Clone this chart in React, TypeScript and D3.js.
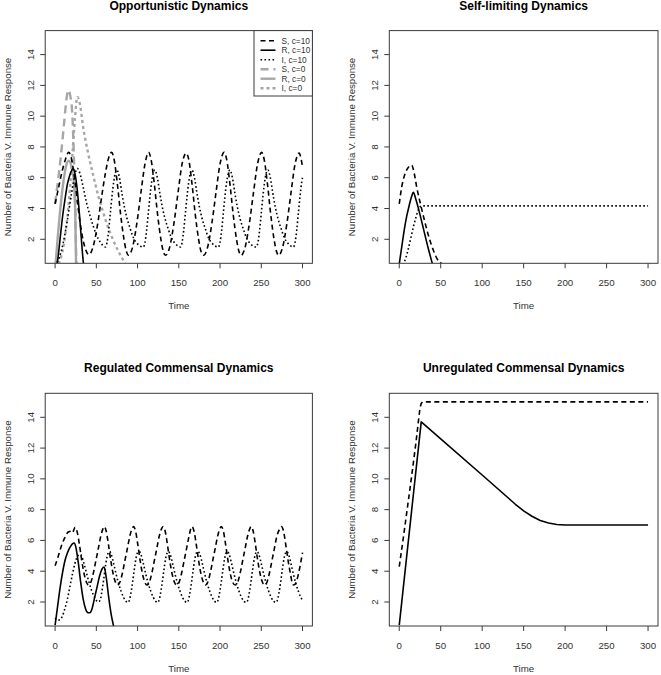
import React from 'react';
import * as d3 from 'd3';

type Pt = [number, number];

const timeTicks = [0, 50, 100, 150, 200, 250, 300];
const valueTicks = [2, 4, 6, 8, 10, 12, 14];
const xLabel = 'Time';
const yLabel = 'Number of Bacteria V. Immune Response';
const titles = [
  'Opportunistic Dynamics',
  'Self-limiting Dynamics',
  'Regulated Commensal Dynamics',
  'Unregulated Commensal Dynamics',
];
const legendLabels = ['S, c=10', 'R, c=10', 'I, c=10', 'S, c=0', 'R, c=0', 'I, c=0'];

// ---- Opportunistic ----
const oppS10: Pt[] = [
  [0, 4.3], [4, 5.3], [8, 6.3], [12, 7.1], [16.5, 7.65], [20, 7.2], [24, 5.8], [28, 4.0], [32, 2.5], [36, 1.5], [41, 1.0],
  [46, 1.5], [51, 2.8], [56, 4.6], [61, 6.3], [65, 7.3], [68.5, 7.65], [71.5, 7.2], [75.5, 5.6], [79.5, 3.6], [83.5, 2.0], [86.5, 1.2], [89, 0.96],
  [94, 1.5], [99, 3.0], [104, 5.0], [109, 6.9], [113.3, 7.65], [116.3, 7.2], [120.3, 5.6], [124.3, 3.6], [128.3, 2.0], [131.3, 1.2], [134, 0.96],
  [139, 1.5], [144, 3.0], [149, 5.0], [154, 6.9], [159, 7.6], [162, 7.2], [166, 5.6], [170, 3.6], [174, 2.0], [177, 1.2], [180, 0.96],
  [185, 1.5], [190, 3.0], [195, 5.0], [200, 6.9], [205, 7.65], [208, 7.2], [212, 5.6], [216, 3.6], [220, 2.0], [223, 1.2], [225.5, 0.96],
  [230.5, 1.5], [235.5, 3.0], [240.5, 5.0], [245.5, 6.9], [250.5, 7.65], [253.5, 7.2], [257.5, 5.6], [261.5, 3.6], [265.5, 2.0], [268.5, 1.2], [271, 0.96],
  [276, 1.5], [281, 3.0], [286, 5.0], [291, 6.9], [296, 7.6], [298, 7.3], [300, 6.7],
];
const oppR10: Pt[] = [
  [0, 0.0], [3, 0.6], [6, 2.0], [9, 3.45], [12, 4.6], [15, 5.6], [18, 6.2], [22, 6.6], [25, 6.0], [28, 4.6], [31, 2.6], [34.5, 0.4], [36, 0],
];
const oppI10: Pt[] = [
  [0, 0.3], [5, 0.8], [10, 1.8], [15, 3.3], [20, 5.0], [24, 6.2], [27, 6.6], [30, 6.3], [34, 5.4], [38, 4.4], [42, 3.6], [46, 2.9], [50, 2.3], [55, 1.8], [61, 1.5],
  [63, 1.8], [65, 2.6], [67, 3.7], [69, 4.8], [71, 5.7], [73, 6.3], [75, 6.5], [78, 6.0], [81, 5.0], [84, 4.1], [87, 3.4], [91, 2.7], [95, 2.1], [100, 1.7], [107, 1.5],
  [109, 1.8], [111, 2.6], [113, 3.7], [115, 4.8], [117, 5.7], [119, 6.3], [121, 6.5], [124, 6.0], [127, 5.0], [130, 4.1], [133, 3.4], [137, 2.7], [141, 2.1], [146, 1.7], [152, 1.5],
  [154, 1.8], [156, 2.6], [158, 3.7], [160, 4.8], [162, 5.7], [164, 6.3], [166, 6.5], [169, 6.0], [172, 5.0], [175, 4.1], [178, 3.4], [182, 2.7], [186, 2.1], [191, 1.7], [198, 1.5],
  [200, 1.8], [202, 2.6], [204, 3.7], [206, 4.8], [208, 5.7], [210, 6.3], [212, 6.5], [215, 6.0], [218, 5.0], [221, 4.1], [224, 3.4], [228, 2.7], [232, 2.1], [237, 1.7], [244, 1.5],
  [246, 1.8], [248, 2.6], [250, 3.7], [252, 4.8], [254, 5.7], [256, 6.3], [258, 6.5], [261, 6.0], [264, 5.0], [267, 4.1], [270, 3.4], [274, 2.7], [278, 2.1], [283, 1.7], [289, 1.5],
  [291, 1.8], [293, 2.6], [295, 3.7], [297, 4.8], [299, 5.7], [300, 6.0],
];
const oppS0: Pt[] = [
  [0, 4.3], [3, 5.6], [7, 7.4], [11, 9.6], [14, 11.2], [16, 11.7], [18.5, 11.3], [21, 10.0], [23, 7.0], [24.5, 4.0], [26, 0.3], [27, 0],
];
const oppR0: Pt[] = [
  [0, 0.0], [3, 2.0], [6, 3.8], [9, 5.3], [12, 6.4], [14, 6.9], [16.5, 7.1], [20, 6.7], [23, 5.6], [24.5, 3.5], [25.5, 0.3], [26, 0],
];
const oppI0: Pt[] = [
  [0, 0.1], [5, 0.5], [10, 1.5], [14, 3.0], [18, 5.3], [21, 7.5], [24, 9.8], [27, 11.25], [30, 10.8], [34, 9.3], [40, 7.6], [46, 6.2], [52, 4.9],
  [58, 3.8], [64, 2.8], [70, 2.0], [76, 1.3], [82, 0.7], [86, 0.3], [88, 0.1],
];

// ---- Self-limiting ----
const selfS: Pt[] = [
  [0, 4.3], [3, 5.4], [6, 6.1], [10, 6.6], [15, 6.82], [18, 6.3], [21, 5.4], [26, 4.2], [31, 3.1], [36, 2.1], [41, 1.3], [46, 0.7], [51, 0.4], [53, 0.2],
];
const selfR: Pt[] = [
  [0, 0.4], [3, 1.5], [6, 2.6], [9, 3.5], [12, 4.2], [15, 4.8], [17, 5.05], [20, 4.6], [25, 3.6], [30, 2.5], [35, 1.4], [40, 0.4], [41, 0.2],
];
const selfI: Pt[] = [
  [3, 0.1], [5, 0.4], [8, 0.8], [11, 1.4], [14, 2.1], [17, 2.8], [20, 3.4], [23, 3.9], [26, 4.15], [28, 4.17], [300, 4.17],
];

// ---- Regulated commensal ----
const regS: Pt[] = [
  [0, 4.35], [4, 5.0], [8, 5.7], [12, 6.2], [16, 6.55], [19, 6.6], [21, 6.5], [24.3, 6.85], [26.8, 6.55], [29.3, 5.8], [32.3, 4.7], [35.3, 3.8], [38.3, 3.25], [40.5, 3.1],
  [43.5, 3.3], [46.5, 3.9], [49.5, 4.7], [52.5, 5.5], [55.5, 6.3], [58, 6.75], [59.5, 6.9], [62, 6.6], [64.5, 5.8], [67.5, 4.7], [70.5, 3.8], [73.5, 3.25], [75.7, 3.1],
  [78.7, 3.3], [81.7, 3.9], [84.7, 4.7], [87.7, 5.5], [90.7, 6.3], [93.2, 6.75], [95.1, 6.9], [97.6, 6.6], [100.1, 5.8], [103.1, 4.7], [106.1, 3.8], [109.1, 3.25], [111.4, 3.1],
  [114.4, 3.3], [117.4, 3.9], [120.4, 4.7], [123.4, 5.5], [126.4, 6.3], [129, 6.75], [131, 6.9], [133.5, 6.6], [136, 5.8], [139, 4.7], [142, 3.8], [145, 3.25], [147.5, 3.1],
  [150.5, 3.3], [153.5, 3.9], [156.5, 4.7], [159.5, 5.5], [162.5, 6.3], [164.5, 6.75], [166, 6.9], [168.5, 6.6], [171, 5.8], [174, 4.7], [177, 3.8], [180, 3.25], [182.2, 3.1],
  [185.2, 3.3], [188.2, 3.9], [191.2, 4.7], [194.2, 5.5], [197.2, 6.3], [199.7, 6.75], [201.6, 6.9], [204.1, 6.6], [206.6, 5.8], [209.6, 4.7], [212.6, 3.8], [215.6, 3.25], [218.5, 3.1],
  [221.5, 3.3], [224.5, 3.9], [227.5, 4.7], [230.5, 5.5], [233.5, 6.3], [236, 6.75], [237.7, 6.9], [240.2, 6.6], [242.7, 5.8], [245.7, 4.7], [248.7, 3.8], [251.7, 3.25], [254, 3.1],
  [257, 3.3], [260, 3.9], [263, 4.7], [266, 5.5], [269, 6.3], [272.5, 6.75], [274.5, 6.9], [277, 6.6], [279.5, 5.8], [282.5, 4.7], [285.5, 3.8], [287.5, 3.25], [289.4, 3.1],
  [292.4, 3.3], [295.4, 3.9], [298, 4.6], [300, 5.2],
];
const regR: Pt[] = [
  [0, 0.5], [3, 1.7], [6, 2.9], [9, 3.9], [12, 4.7], [15, 5.2], [18, 5.55], [21, 5.78], [23, 5.83], [25, 5.6], [28, 4.6], [31, 3.3], [34, 2.2], [37, 1.55],
  [40, 1.3], [42, 1.3], [45, 1.6], [48, 2.3], [51, 3.0], [54, 3.7], [57, 4.15], [59.5, 4.27], [62, 3.6], [65, 2.3], [68, 1.2], [71, 0.4], [72, 0.1],
];
const regI: Pt[] = [
  [0, 0.95], [3, 0.82], [6, 0.85], [9, 1.1], [12, 1.6], [15, 2.2], [18, 3.0], [21, 3.8], [24, 4.5], [27, 4.95], [30, 5.1], [32, 5.0], [35, 4.5], [38, 3.9],
  [41, 3.3], [44, 2.8], [47, 2.4], [50, 2.1], [52.5, 2.0],
  [54.5, 2.1], [56.5, 2.6], [58.5, 3.3], [60.5, 4.1], [62.5, 4.8], [64.5, 5.2], [66, 5.28], [68, 5.1], [71, 4.5], [74, 3.8], [77, 3.2], [80, 2.7], [83, 2.3], [86, 2.05], [88, 1.97],
  [90, 2.1], [92, 2.6], [94, 3.3], [96, 4.1], [98, 4.8], [100, 5.2], [102, 5.28], [104, 5.1], [107, 4.5], [110, 3.8], [113, 3.2], [116, 2.7], [119, 2.3], [122, 2.05], [124, 1.97],
  [126, 2.1], [128, 2.6], [130, 3.3], [132, 4.1], [134, 4.8], [136, 5.2], [137.5, 5.28], [139.5, 5.1], [142.5, 4.5], [145.5, 3.8], [148.5, 3.2], [151.5, 2.7], [154.5, 2.3], [157.5, 2.05], [159.5, 1.97],
  [161.5, 2.1], [163.5, 2.6], [165.5, 3.3], [167.5, 4.1], [169.5, 4.8], [171.5, 5.2], [173.5, 5.28], [175.5, 5.1], [178.5, 4.5], [181.5, 3.8], [184.5, 3.2], [187.5, 2.7], [190.5, 2.3], [193.5, 2.05], [195.5, 1.97],
  [197.5, 2.1], [199.5, 2.6], [201.5, 3.3], [203.5, 4.1], [205.5, 4.8], [207.5, 5.2], [209, 5.28], [211, 5.1], [214, 4.5], [217, 3.8], [220, 3.2], [223, 2.7], [226, 2.3], [229, 2.05], [231.5, 1.97],
  [233.5, 2.1], [235.5, 2.6], [237.5, 3.3], [239.5, 4.1], [241.5, 4.8], [243.5, 5.2], [245, 5.28], [247, 5.1], [250, 4.5], [253, 3.8], [256, 3.2], [259, 2.7], [262, 2.3], [265, 2.05], [267.5, 1.97],
  [269.5, 2.1], [271.5, 2.6], [273.5, 3.3], [275.5, 4.1], [277.5, 4.8], [279.5, 5.2], [281, 5.28], [283, 5.1], [286, 4.5], [289, 3.8], [292, 3.2], [295, 2.7], [298, 2.3], [300, 2.1],
];

// ---- Unregulated commensal ----
const unregS: Pt[] = [
  [0, 4.3], [5, 6.2], [10, 8.2], [15, 10.2], [20, 12.3], [23, 13.7], [25, 14.6], [26.5, 14.9], [28, 15.0], [300, 15.0],
];
const unregR: Pt[] = [
  [0, 0.5], [26.5, 13.7], [50, 12.6], [100, 10.25], [140, 8.35], [150, 7.92], [160, 7.57], [170, 7.3], [180, 7.13], [190, 7.04], [200, 7.0], [210, 7.0], [300, 7.0],
];

const FONT = '"Liberation Sans", Arial, Helvetica, sans-serif';
const GREY = '#a6a6a6';

type Style = { stroke: string; width: number; dash?: string };
const sDashed: Style = { stroke: '#000', width: 1.6, dash: '5,3.5' };
const sSolid: Style = { stroke: '#000', width: 1.6 };
const sDotted: Style = { stroke: '#000', width: 1.6, dash: '1.6,2.4' };
const gDashed: Style = { stroke: GREY, width: 2.4, dash: '8,5' };
const gSolid: Style = { stroke: GREY, width: 2.4 };
const gDotted: Style = { stroke: GREY, width: 2.4, dash: '3,3' };

type Series = { data: Pt[]; style: Style };

type PanelProps = {
  id: string;
  x0: number; x1: number; y0: number; y1: number;
  title: string;
  series: Series[];
  curve: d3.CurveFactory;
  legend?: boolean;
};

function Panel({ id, x0, x1, y0, y1, title, series, curve, legend }: PanelProps) {
  const x = d3.scaleLinear().domain([-12, 312]).range([x0, x1]);
  const y = d3.scaleLinear().domain([0.44, 15.56]).range([y1, y0]);
  const line = d3.line<Pt>().x(d => x(d[0])).y(d => y(d[1])).curve(curve);
  const cx = (x0 + x1) / 2;
  const cy = (y0 + y1) / 2;
  const legendStyles = [sDashed, sSolid, sDotted, gDashed, gSolid, gDotted];
  return (
    <g>
      <defs>
        <clipPath id={id}>
          <rect x={x0} y={y0} width={x1 - x0} height={y1 - y0} />
        </clipPath>
      </defs>
      <g clipPath={`url(#${id})`}>
        {series.map((s, i) => (
          <path key={i} d={line(s.data) || ''} fill="none" stroke={s.style.stroke}
            strokeWidth={s.style.width} strokeDasharray={s.style.dash}
            strokeLinejoin="round" />
        ))}
      </g>
      <rect x={x0} y={y0} width={x1 - x0} height={y1 - y0} fill="none" stroke="#3a3a3a" strokeWidth={1} />
      {timeTicks.map(t => (
        <g key={'x' + t}>
          <line x1={x(t)} x2={x(t)} y1={y1} y2={y1 + 5} stroke="#3a3a3a" />
          <text x={x(t)} y={y1 + 19.5} fontSize={9.7} fontFamily={FONT} fill="#333"
            textAnchor="middle" dominantBaseline="central">{t}</text>
        </g>
      ))}
      {valueTicks.map(v => (
        <g key={'y' + v}>
          <line x1={x0 - 5} x2={x0} y1={y(v)} y2={y(v)} stroke="#3a3a3a" />
          <text transform={`translate(${x0 - 15},${y(v)}) rotate(-90)`} fontSize={9.7} fontFamily={FONT}
            fill="#333" textAnchor="middle" dominantBaseline="central">{v}</text>
        </g>
      ))}
      <text x={cx} y={y1 + 42.5} fontSize={9.7} fontFamily={FONT} fill="#333" textAnchor="middle"
        dominantBaseline="central">{xLabel}</text>
      <text transform={`translate(${x0 - 38},${cy}) rotate(-90)`} fontSize={9.7} fontFamily={FONT}
        fill="#333" textAnchor="middle" dominantBaseline="central">{yLabel}</text>
      <text x={cx} y={y0 - 21} fontSize={12} fontWeight="bold" fontFamily={FONT} fill="#000"
        textAnchor="middle">{title}</text>
      {legend && (
        <g>
          <rect x={254} y={y0} width={x1 - 254} height={96 - y0} fill="#fff" stroke="#3a3a3a" />
          {legendLabels.map((lab, i) => {
            const ly = 40.7 + i * 9.5;
            const st = legendStyles[i];
            return (
              <g key={lab}>
                <line x1={260.5} x2={275.5} y1={ly} y2={ly} stroke={st.stroke} strokeWidth={st.width}
                  strokeDasharray={st.dash} />
                <text x={281.5} y={ly} fontSize={8.3} fontFamily={FONT} fill="#333"
                  dominantBaseline="central">{lab}</text>
              </g>
            );
          })}
        </g>
      )}
    </g>
  );
}

export default function App() {
  const L = { x0: 45.2, x1: 312.4 };
  const R = { x0: 389.3, x1: 658 };
  const T = { y0: 30.6, y1: 263.3 };
  const B = { y0: 393.3, y1: 626 };
  return (
    <svg width={661} height={675} style={{ position: 'absolute', left: 0, top: 0, background: '#fff' }}>
      <rect width={661} height={675} fill="#fff" />
      <Panel id="c1" {...L} {...T} title={titles[0]} curve={d3.curveMonotoneX} legend
        series={[
          { data: oppI0, style: gDotted },
          { data: oppS0, style: gDashed },
          { data: oppR0, style: gSolid },
          { data: oppS10, style: sDashed },
          { data: oppR10, style: sSolid },
          { data: oppI10, style: sDotted },
        ]} />
      <Panel id="c2" {...R} {...T} title={titles[1]} curve={d3.curveMonotoneX}
        series={[
          { data: selfS, style: sDashed },
          { data: selfR, style: sSolid },
          { data: selfI, style: sDotted },
        ]} />
      <Panel id="c3" {...L} {...B} title={titles[2]} curve={d3.curveMonotoneX}
        series={[
          { data: regS, style: sDashed },
          { data: regR, style: sSolid },
          { data: regI, style: sDotted },
        ]} />
      <Panel id="c4" {...R} {...B} title={titles[3]} curve={d3.curveLinear}
        series={[
          { data: unregS, style: sDashed },
          { data: unregR, style: sSolid },
        ]} />
    </svg>
  );
}
